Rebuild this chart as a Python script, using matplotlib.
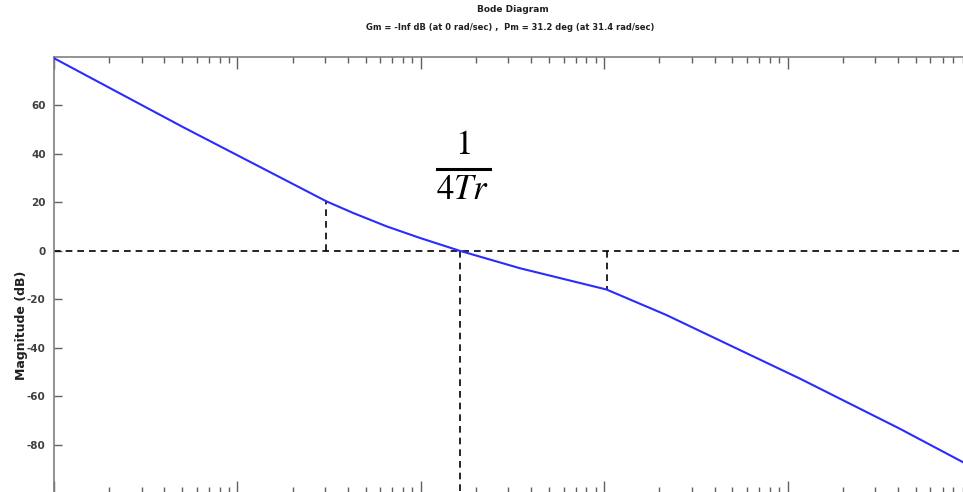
import matplotlib
matplotlib.use("Agg")
import matplotlib.pyplot as plt
from matplotlib import font_manager
import numpy as np

# Open-loop magnitude response
freq = [0.1, 0.507, 3.06, 4.28, 6.5, 9.89, 16.3, 34.7, 103,
        218, 503, 1162, 4076, 9000]
mag_db = [79.5, 51.0, 20.4, 15.6, 10.1, 5.3, 0.0, -7.2, -16.0,
          -26.5, -39.6, -52.7, -73.4, -87.2]

# Guide points: corner 1, gain crossover, corner 2
corner_lo = (3.06, 20.4)
crossover = (16.3, 0.0)
corner_hi = (103, -16.0)

y_ticks = [60, 40, 20, 0, -20, -40, -60, -80]
title_lines = ["Bode Diagram",
               "Gm = -Inf dB (at 0 rad/sec) ,  Pm = 31.2 deg (at 31.4 rad/sec)"]
y_label = "Magnitude (dB)"

names = {f.name for f in font_manager.fontManager.ttflist}
narrow = "Liberation Sans Narrow" if "Liberation Sans Narrow" in names else "DejaVu Sans"

W, H, DPI = 963, 492, 100
fig = plt.figure(figsize=(W / DPI, H / DPI), dpi=DPI)
fig.patch.set_facecolor("white")

left_px, right_px, top_px, bottom_px = 54, 971, 57, 493
ax = fig.add_axes([left_px / W, (H - bottom_px) / H,
                   (right_px - left_px) / W, (bottom_px - top_px) / H])

ax.semilogx(freq, mag_db, color="#2b2bff", lw=1.5, zorder=3)

dash = dict(color="black", lw=1.2, ls=(0, (4, 3)), zorder=2)
ax.axhline(0, **dash)
ax.plot([corner_lo[0], corner_lo[0]], [0, corner_lo[1]], **dash)
ax.plot([crossover[0], crossover[0]], [crossover[1], -100], **dash)
ax.plot([corner_hi[0], corner_hi[0]], [0, corner_hi[1]], **dash)

ax.set_xlim(0.1, 1e4)
ax.set_ylim(-100, 80)
ax.set_yticks(y_ticks)
ax.set_yticklabels([str(v) for v in y_ticks])
ax.xaxis.set_major_locator(matplotlib.ticker.LogLocator(base=10))
ax.xaxis.set_minor_locator(matplotlib.ticker.LogLocator(base=10, subs=np.arange(2, 10)))
ax.xaxis.set_major_formatter(matplotlib.ticker.NullFormatter())
ax.xaxis.set_minor_formatter(matplotlib.ticker.NullFormatter())

spine_col = "#808080"
for s in ax.spines.values():
    s.set_color(spine_col)
    s.set_linewidth(1.2)
ax.tick_params(axis="x", which="major", direction="in", length=8.5, width=1.0,
               color="#606060", top=True, bottom=True)
ax.tick_params(axis="x", which="minor", direction="in", length=4.5, width=1.0,
               color="#606060", top=True, bottom=True)
ax.tick_params(axis="y", which="major", direction="in", length=5.5, width=1.0,
               color="#606060", labelsize=7.5, labelcolor="#404040", pad=6)
for lab in ax.get_yticklabels():
    lab.set_fontfamily(narrow)
    lab.set_fontweight("bold")

fig.text(513 / W, 1 - 10 / H, title_lines[0], ha="center", va="center",
         fontsize=6.5, fontweight="bold", family=narrow, color="#202020")
fig.text(510 / W, 1 - 27 / H, title_lines[1], ha="center", va="center",
         fontsize=6.0, fontweight="bold", family=narrow, color="#202020")
fig.text(22 / W, 1 - 325 / H, y_label, ha="center", va="center", rotation=90,
         fontsize=9, fontweight="bold", family=narrow, color="#202020")

# Annotation for the crossover frequency: 1 / (4 Tr)
plt.rcParams["mathtext.fontset"] = "stix"
fig.text(463 / W, 1 - 144 / H, r"$1$", ha="center", va="center",
         fontsize=25, color="black")
fig.add_artist(plt.Line2D([437 / W, 490 / W], [1 - 169 / H, 1 - 169 / H],
                          color="black", lw=2.2, transform=fig.transFigure))
fig.text(463 / W, 1 - 189 / H, r"$4Tr$", ha="center", va="center",
         fontsize=25, color="black")

fig.savefig("out.png", dpi=DPI, facecolor="white")
